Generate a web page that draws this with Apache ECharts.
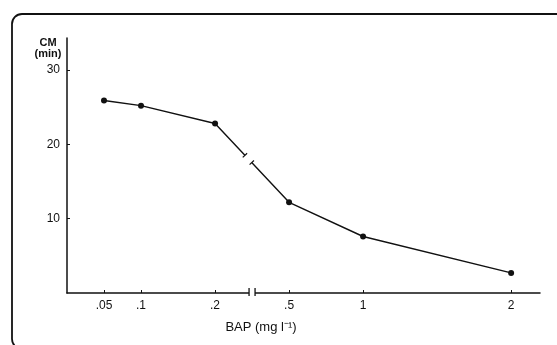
<!DOCTYPE html>
<html>
<head>
<meta charset="utf-8">
<script src="https://cdn.jsdelivr.net/npm/echarts@6/dist/echarts.min.js"></script>
<style>html,body{margin:0;padding:0;background:#fff}#c{width:557px;height:345px}</style>
</head>
<body>
<div id="c"></div>
<script>
// Data
var xTickLabels = ['.05', '.1', '.2', '.5', '1', '2'];
var xTickPositions = [1, 2, 4, 6, 8, 12];   // position of each label on the (non-linear) drawn axis
var breakPosition = 5;                     // axis break between .2 and .5
var cmValues = [25.9, 25.2, 22.8, 12.2, 7.6, 2.7];
var yTicks = [10, 20, 30];
var yName = 'CM\n(min)';
var xName = 'BAP (mg l\u207B\u00B9)';

var font = '"Liberation Sans", Arial, sans-serif';
var chart = echarts.init(document.getElementById('c'), null, {renderer: 'canvas'});

var seriesData = xTickPositions.map(function (p, i) { return [p, cmValues[i]]; });

chart.setOption({
  animation: false,
  backgroundColor: '#fff',
  grid: {left: 67, top: 38, width: 473, height: 255, containLabel: false},
  xAxis: {
    type: 'value', min: 0, max: 12.78,
    axisLine: {show: true, lineStyle: {color: '#111', width: 1.5}},
    splitLine: {show: false},
    axisTick: {show: true, inside: true, length: 3, customValues: xTickPositions, lineStyle: {color: '#111'}},
    axisLabel: {
      customValues: xTickPositions, margin: 7, color: '#111', fontSize: 12, fontFamily: font,
      formatter: function (v) { var i = xTickPositions.indexOf(v); return i >= 0 ? xTickLabels[i] : ''; }
    }
  },
  yAxis: {
    type: 'value', min: 0, max: 34.3,
    axisLine: {show: true, lineStyle: {color: '#111', width: 1.5}},
    splitLine: {show: false},
    axisTick: {show: true, inside: true, length: 3, customValues: yTicks, lineStyle: {color: '#111'}},
    axisLabel: {customValues: yTicks, margin: 7, color: '#111', fontSize: 12, fontFamily: font}
  },
  series: [{
    type: 'line', data: seriesData,
    symbol: 'circle', symbolSize: 6,
    lineStyle: {color: '#111', width: 1.4},
    itemStyle: {color: '#111'}
  }]
});

// decorations computed from the chart's own scales
var pA = chart.convertToPixel({gridIndex: 0}, seriesData[2]);
var pB = chart.convertToPixel({gridIndex: 0}, seriesData[3]);
var bx = chart.convertToPixel({gridIndex: 0}, [breakPosition, 0]);
var dx = pB[0] - pA[0], dy = pB[1] - pA[1];
var len = Math.sqrt(dx * dx + dy * dy);
var ux = dx / len, uy = dy / len;
var mx = pA[0] + dx * 0.45, my = pA[1] + dy * 0.45;
var g1 = [mx - ux * 5, my - uy * 5], g2 = [mx + ux * 5, my + uy * 5];
var nx = -uy, ny = ux;

chart.setOption({
  graphic: [
    {type: 'rect', shape: {x: 12, y: 14, width: 620, height: 335, r: 10}, style: {fill: 'none', stroke: '#111', lineWidth: 1.8}, z: 100},
    {type: 'text', x: 48, y: 37, style: {text: yName, font: 'bold 11px ' + font, fill: '#111', align: 'center', verticalAlign: 'top', lineHeight: 11}, z: 100},
    {type: 'text', x: 261, y: 327, style: {text: xName, font: '13px ' + font, fill: '#111', align: 'center', verticalAlign: 'middle'}, z: 100},
    // gap in the curve
    {type: 'line', shape: {x1: g1[0], y1: g1[1], x2: g2[0], y2: g2[1]}, style: {stroke: '#fff', lineWidth: 4}, z: 100},
    {type: 'line', shape: {x1: g1[0] - nx * 3, y1: g1[1] - ny * 3, x2: g1[0] + nx * 3, y2: g1[1] + ny * 3}, style: {stroke: '#111', lineWidth: 1.2}, z: 101},
    {type: 'line', shape: {x1: g2[0] - nx * 3, y1: g2[1] - ny * 3, x2: g2[0] + nx * 3, y2: g2[1] + ny * 3}, style: {stroke: '#111', lineWidth: 1.2}, z: 101},
    // axis break
    {type: 'rect', shape: {x: bx[0] - 3, y: bx[1] - 3, width: 6, height: 6}, style: {fill: '#fff'}, z: 100},
    {type: 'line', shape: {x1: bx[0] - 3, y1: bx[1] - 5, x2: bx[0] - 3, y2: bx[1] + 3}, style: {stroke: '#111', lineWidth: 1.3}, z: 101},
    {type: 'line', shape: {x1: bx[0] + 3, y1: bx[1] - 5, x2: bx[0] + 3, y2: bx[1] + 3}, style: {stroke: '#111', lineWidth: 1.3}, z: 101}
  ]
});
</script>
</body>
</html>
